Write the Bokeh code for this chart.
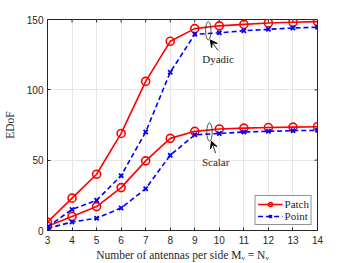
from bokeh.plotting import figure
from bokeh.models import (Range1d, FixedTicker, Legend, LegendItem,
                          Arrow, VeeHead, Label)
from bokeh.embed import file_html
from bokeh.resources import INLINE

# ---- data ----
antennas = [3, 4, 5, 6, 7, 8, 9, 10, 11, 12, 13, 14]
patch_dyadic = [6, 23, 40, 69, 106, 134.5, 143.5, 145.5, 146.5, 147.5, 148, 148.5]
point_dyadic = [2.5, 15, 21.5, 39, 70, 112.5, 139.5, 140.5, 142, 143, 144, 144.5]
patch_scalar = [3, 10, 17, 30.5, 49.5, 65.5, 70.5, 72.2, 72.8, 73.2, 73.5, 73.8]
point_scalar = [1.5, 6, 8.7, 16, 29.7, 53.5, 68, 69, 70, 70.5, 71, 71.2]
x_ticks = [3, 4, 5, 6, 7, 8, 9, 10, 11, 12, 13, 14]
y_ticks = [0, 50, 100, 150]
series_names = ["Patch", "Point"]
annot_names = ["Dyadic", "Scalar"]
annot_ellipse_x = [9.55, 9.6]
annot_ellipse_y = [142, 70]
annot_text_x = [9.95, 9.85]
annot_text_y = [122, 49]

RED = "#ff0000"
BLUE = "#0000ff"
AX = "#262626"
SERIF = "Liberation Serif"
SANS = "Liberation Sans"

X0, X1 = 3, 14
Y0, Y1 = 0, 150

p = figure(width=350, height=263, output_backend="svg", toolbar_location=None,
           x_range=Range1d(X0, X1), y_range=Range1d(Y0, Y1),
           min_border_left=45, min_border_right=33, min_border_top=19,
           min_border_bottom=32)

p.background_fill_color = "white"
p.border_fill_color = "white"
p.outline_line_color = AX
p.outline_line_width = 1

for ax in (p.xaxis[0], p.yaxis[0]):
    ax.major_tick_in = 3
    ax.major_tick_out = 0
    ax.minor_tick_in = 0
    ax.minor_tick_out = 0
    ax.axis_line_color = AX
    ax.major_tick_line_color = AX
    ax.major_label_text_font = SANS
    ax.major_label_text_font_size = "10px"
    ax.major_label_text_color = AX
    ax.axis_label_text_font = SERIF
    ax.axis_label_text_font_style = "normal"
    ax.axis_label_text_font_size = "11.5px"
    ax.axis_label_text_color = AX

p.xaxis[0].ticker = FixedTicker(ticks=x_ticks)
p.yaxis[0].ticker = FixedTicker(ticks=y_ticks)
p.xaxis[0].axis_label = "Number of antennas per side Mᵥ = Nᵥ"
p.yaxis[0].axis_label = "EDoF"
p.xaxis[0].major_label_standoff = 5
p.xaxis[0].axis_label_standoff = 2
p.yaxis[0].major_label_standoff = 4
p.yaxis[0].axis_label_standoff = 8

p.xgrid.ticker = FixedTicker(ticks=x_ticks)
p.ygrid.ticker = FixedTicker(ticks=y_ticks)
p.grid.grid_line_color = "#e6e6e6"
p.grid.grid_line_width = 1

# top / right inward tick marks of the box
tick_dy = (Y1 - Y0) * 0.014
tick_dx = (X1 - X0) * 0.011
p.segment(x0=x_ticks, y0=[Y1] * len(x_ticks), x1=x_ticks,
          y1=[Y1 - tick_dy] * len(x_ticks), line_color=AX, line_width=1)
p.segment(x0=[X1] * len(y_ticks), y0=y_ticks, x1=[X1 - tick_dx] * len(y_ticks),
          y1=y_ticks, line_color=AX, line_width=1)

# series
patch_lines, point_lines = [], []
for ys in (patch_dyadic, patch_scalar):
    l = p.line(antennas, ys, line_color=RED, line_width=1.6)
    s = p.scatter(antennas, ys, marker="circle", size=8, line_color=RED,
                  fill_color=None, line_width=1.6)
    patch_lines += [l, s]
for ys in (point_dyadic, point_scalar):
    l = p.line(antennas, ys, line_color=BLUE, line_width=1.6, line_dash="5 3")
    s = p.scatter(antennas, ys, marker="x", size=6, line_color=BLUE, line_width=1.8)
    point_lines += [l, s]

# annotations: ellipses, arrows, text
p.ellipse(x=annot_ellipse_x, y=annot_ellipse_y, width=0.22, height=13,
          fill_color=None, line_color=AX, line_width=0.8)
for ex, ey, tx, ty, name in zip(annot_ellipse_x, annot_ellipse_y,
                                annot_text_x, annot_text_y, annot_names):
    p.add_layout(Arrow(end=VeeHead(size=7, fill_color="black", line_color="black"),
                       x_start=tx, y_start=ty + 6, x_end=ex + 0.08, y_end=ey - 6.5,
                       line_color="black", line_width=0.8))
    p.add_layout(Label(x=tx, y=ty, text=name, text_font=SERIF,
                       text_font_size="11px", text_color=AX,
                       text_align="center", text_baseline="middle"))

legend = Legend(items=[LegendItem(label=series_names[0], renderers=patch_lines[:2]),
                       LegendItem(label=series_names[1], renderers=point_lines[:2])],
                location="bottom_right")
legend.label_text_font = SERIF
legend.label_text_font_size = "11px"
legend.label_text_color = AX
legend.glyph_width = 25
legend.glyph_height = 10
legend.label_height = 10
legend.spacing = 0
legend.padding = 2
legend.margin = 5
legend.label_standoff = 2
legend.border_line_color = AX
legend.border_line_width = 0.8
legend.background_fill_alpha = 1
p.add_layout(legend, "center")

open("out.html", "w").write(file_html(p, INLINE))
